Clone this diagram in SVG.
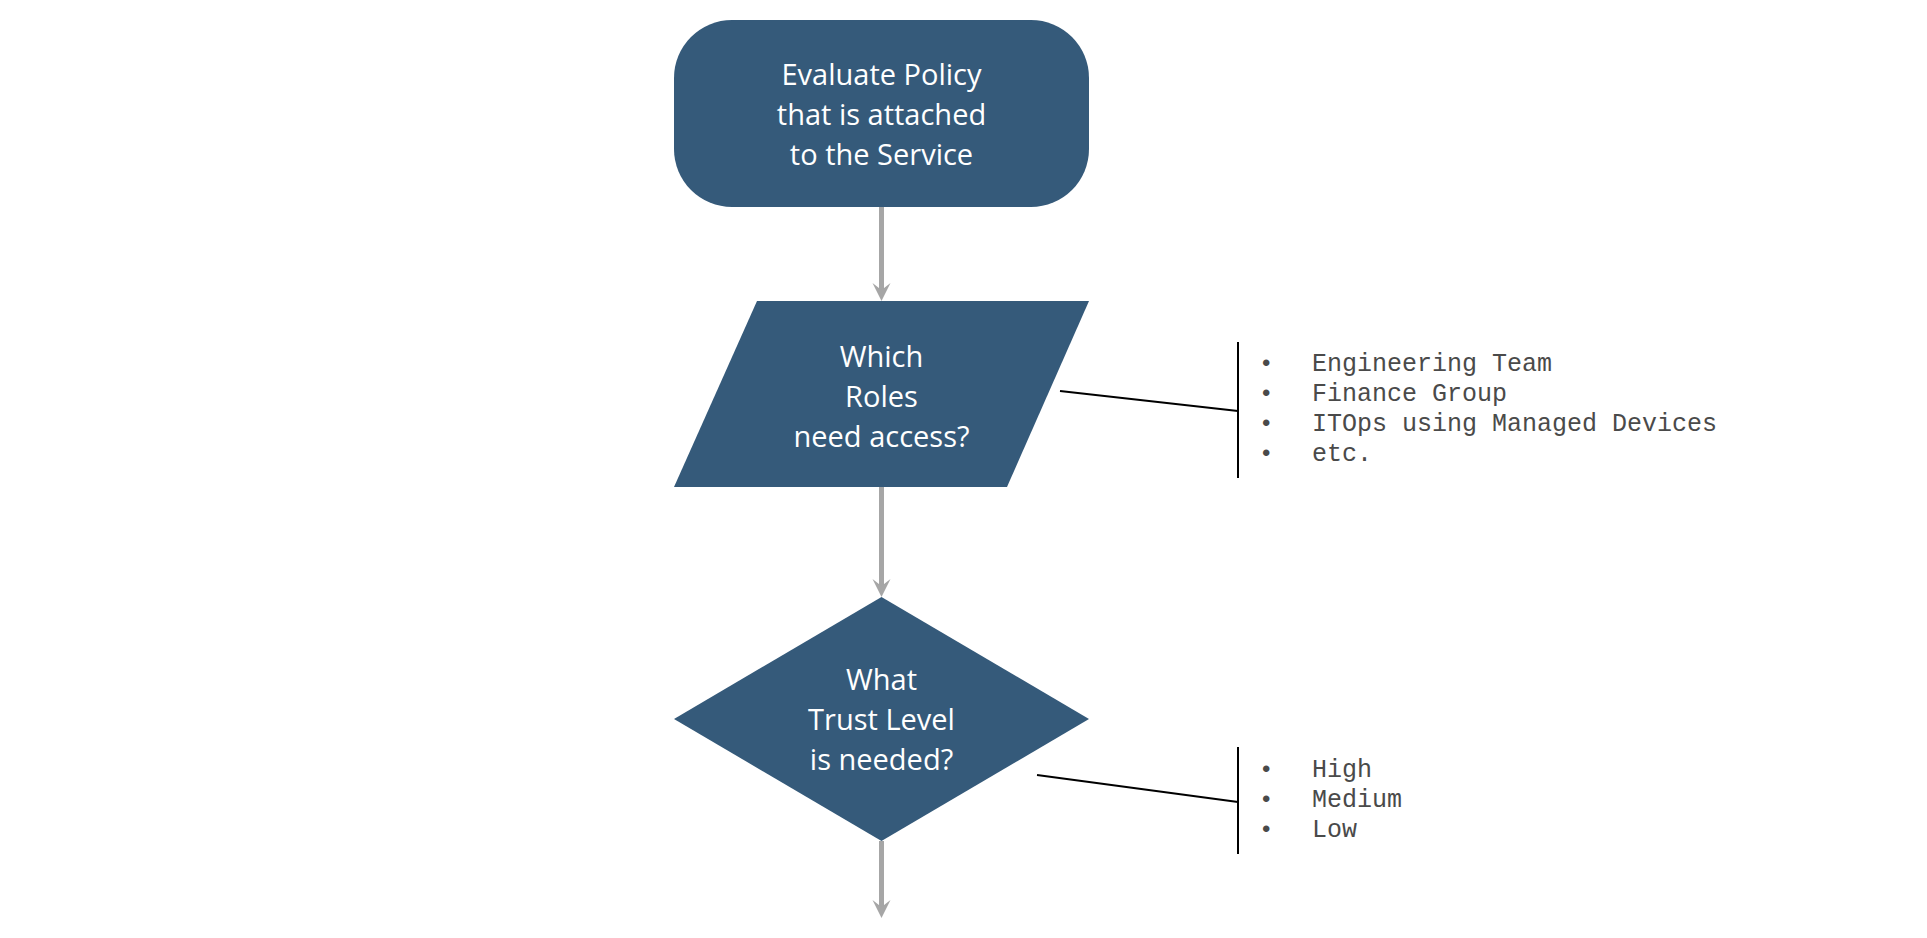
<svg xmlns="http://www.w3.org/2000/svg" width="1927" height="938" viewBox="0 0 1927 938">
<style>
.shape{fill:#355a7a;}
.lbl{font-family:"Open Sans","Noto Sans","Liberation Sans",sans-serif;font-size:29px;fill:#ffffff;text-anchor:middle;}
.flow{stroke:#a6a6a6;stroke-width:5;fill:none;}
.call{stroke:#000000;stroke-width:2;fill:none;}
.list{font-family:"Liberation Mono","Courier New",monospace;font-size:25px;fill:#4a4a4a;}
.bul{font-family:"Liberation Sans",Arial,sans-serif;font-size:24px;fill:#4a4a4a;}
</style>
<defs>
<marker id="arr" markerUnits="userSpaceOnUse" markerWidth="20" markerHeight="20" viewBox="0 -10 20 20" refX="7" refY="0" orient="auto">
<path d="M0,-9 L18,0 L0,9 L7,0 Z" fill="#a6a6a6"/>
</marker>
</defs>
<rect width="1927" height="938" fill="#ffffff"/>
<g id="connectors">
<line class="flow" x1="881.5" y1="207" x2="881.5" y2="290" marker-end="url(#arr)"/>
<line class="flow" x1="881.5" y1="487" x2="881.5" y2="586" marker-end="url(#arr)"/>
<line class="flow" x1="881.5" y1="841" x2="881.5" y2="907" marker-end="url(#arr)"/>
<line class="call" x1="1060" y1="391" x2="1238" y2="411"/>
<line class="call" x1="1238" y1="342" x2="1238" y2="478"/>
<line class="call" x1="1037" y1="775" x2="1238" y2="802"/>
<line class="call" x1="1238" y1="747" x2="1238" y2="854"/>
</g>
<g id="start">
<rect class="shape" x="674" y="20" width="415" height="187" rx="58" ry="58"/>
<text class="lbl" x="881.5" y="84.5">Evaluate Policy</text>
<text class="lbl" x="881.5" y="124.5">that is attached</text>
<text class="lbl" x="881.5" y="164.5">to the Service</text>
</g>
<g id="roles">
<polygon class="shape" points="757,301 1089,301 1007,487 674,487"/>
<text class="lbl" x="881.5" y="367">Which</text>
<text class="lbl" x="881.5" y="407">Roles</text>
<text class="lbl" x="881.5" y="447">need access?</text>
</g>
<g id="trust">
<polygon class="shape" points="881.5,597 1089,719 881.5,841 674,719"/>
<text class="lbl" x="881.5" y="690">What</text>
<text class="lbl" x="881.5" y="730">Trust Level</text>
<text class="lbl" x="881.5" y="770">is needed?</text>
</g>
<g id="roles-list">
<text class="bul" x="1262" y="371">•</text>
<text class="bul" x="1262" y="401">•</text>
<text class="bul" x="1262" y="431">•</text>
<text class="bul" x="1262" y="461">•</text>
<text class="list" x="1312" y="371">Engineering Team</text>
<text class="list" x="1312" y="401">Finance Group</text>
<text class="list" x="1312" y="431">ITOps using Managed Devices</text>
<text class="list" x="1312" y="461">etc.</text>
</g>
<g id="trust-list">
<text class="bul" x="1262" y="777">•</text>
<text class="bul" x="1262" y="807">•</text>
<text class="bul" x="1262" y="837">•</text>
<text class="list" x="1312" y="777">High</text>
<text class="list" x="1312" y="807">Medium</text>
<text class="list" x="1312" y="837">Low</text>
</g>
</svg>
